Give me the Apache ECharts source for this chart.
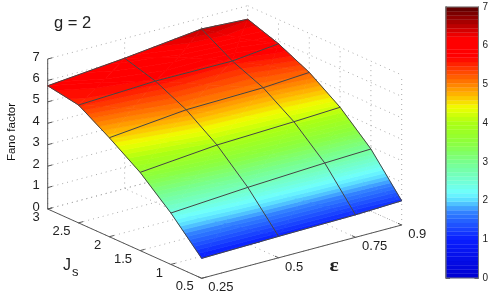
<!DOCTYPE html>
<html><head><meta charset="utf-8">
<style>html,body{margin:0;padding:0;background:#fff}#c{width:491px;height:294px}</style>
<script src="https://cdn.jsdelivr.net/npm/echarts@6/dist/echarts.min.js"></script>
</head><body><div id="c"></div>
<script>
const epsValues = [0.25, 0.5, 0.75, 0.9];
const jsValues = [3, 2.5, 2, 1.5, 1, 0.5];
const fanoEps025 = [5.75, 5.50, 4.62, 3.65, 2.40, 0.93];
const fanoEps050 = [6.08, 5.66, 4.97, 3.97, 2.64, 1.00];
const fanoEps075 = [6.49, 5.64, 5.04, 4.10, 2.82, 1.05];
const fanoEps090 = [6.37, 5.87, 5.18, 4.20, 2.90, 1.13];
const fanoColumns = [fanoEps025, fanoEps050, fanoEps075, fanoEps090];
const epsTicks = [0.25, 0.5, 0.75, 0.9];
const jsTicks = [3, 2.5, 2, 1.5, 1, 0.5];
const zTicks = [0, 1, 2, 3, 4, 5, 6, 7];

const colorStops = [
 [0,[0,0,210]],[1,[10,30,255]],[1.7,[50,130,255]],[2.0,[90,220,255]],[2.2,[110,255,255]],
 [3,[120,255,140]],[3.5,[140,255,60]],[4,[170,255,20]],[4.4,[240,255,0]],[4.7,[255,190,0]],
 [5,[255,130,0]],[5.5,[255,40,0]],[5.7,[255,0,0]],[6.2,[255,0,0]],[6.5,[190,0,0]],[7,[90,0,0]]
];
const LEVELS = 64, ZMAX = 7;
function colorAt(z){
  for(let i=1;i<colorStops.length;i++){
    if(z<=colorStops[i][0]){
      const a=colorStops[i-1],b=colorStops[i],t=(z-a[0])/(b[0]-a[0]);
      return 'rgb('+[0,1,2].map(k=>Math.round(a[1][k]+(b[1][k]-a[1][k])*t)).join(',')+')';
    }
  }
  return 'rgb(90,0,0)';
}
const lin = echarts.number.linearMap;
// oblique projection of the 3D box on the page
function project(e,j,z){
  return [
    47.7 + lin(e,[0.25,0.9],[0,200]) + lin(j,[3,0.5],[0,154]),
    209 - lin(e,[0.25,0.9],[0,53.3]) + lin(j,[3,0.5],[0,69.3]) - lin(z,[0,7],[0,150])
  ];
}
// surface cells
const cells=[];
for(let a=0;a<epsValues.length-1;a++) for(let b=0;b<jsValues.length-1;b++){
  cells.push([epsValues[a],epsValues[a+1],jsValues[b],jsValues[b+1],
    fanoColumns[a][b],fanoColumns[a+1][b],fanoColumns[a+1][b+1],fanoColumns[a][b+1]]);
}
function clip(poly,level,keepAbove){
  const out=[];
  for(let i=0;i<poly.length;i++){
    const p=poly[i],q=poly[(i+1)%poly.length];
    const pin=keepAbove?p[2]>=level:p[2]<=level, qin=keepAbove?q[2]>=level:q[2]<=level;
    if(pin) out.push(p);
    if(pin!==qin){
      const t=(level-p[2])/(q[2]-p[2]);
      out.push([p[0]+(q[0]-p[0])*t,p[1]+(q[1]-p[1])*t,level]);
    }
  }
  return out;
}
function renderCell(params,api){
  const e0=api.value(0),e1=api.value(1),j0=api.value(2),j1=api.value(3);
  const zs=[api.value(4),api.value(5),api.value(6),api.value(7)];
  const corners=[[e0,j0],[e1,j0],[e1,j1],[e0,j1]].map((c,i)=>{const p=project(c[0],c[1],zs[i]);return [p[0],p[1],zs[i]];});
  const mid=[0,1,2].map(k=>(corners[0][k]+corners[1][k]+corners[2][k]+corners[3][k])/4);
  const children=[];
  for(let t=0;t<4;t++){
    const tri=[corners[t],corners[(t+1)%4],mid];
    const lo=Math.min(tri[0][2],tri[1][2],tri[2][2]),hi=Math.max(tri[0][2],tri[1][2],tri[2][2]);
    const s=Math.floor(lo/ZMAX*LEVELS),f=Math.floor(hi/ZMAX*LEVELS);
    for(let l=s;l<=f;l++){
      const a=l/LEVELS*ZMAX,b=(l+1)/LEVELS*ZMAX;
      let poly=clip(clip(tri,a,true),b,false);
      if(poly.length<3) continue;
      const col=colorAt((l+0.5)/LEVELS*ZMAX);
      children.push({type:'polygon',shape:{points:poly.map(p=>[p[0],p[1]])},style:{fill:col,stroke:col,lineWidth:0.7},silent:true});
    }
  }
  return {type:'group',children};
}
// dotted box grid
const gridSegs=[];
zTicks.forEach(z=>{gridSegs.push([0.25,3,z,0.9,3,z]);gridSegs.push([0.9,3,z,0.9,0.5,z]);});
jsTicks.forEach(j=>{gridSegs.push([0.25,j,0,0.9,j,0]);gridSegs.push([0.9,j,0,0.9,j,7]);});
epsTicks.forEach(e=>{gridSegs.push([e,0.5,0,e,3,0]);gridSegs.push([e,3,0,e,3,7]);});
// mesh lines
const meshSegs=[];
epsValues.forEach((e,a)=>{for(let b=0;b<jsValues.length-1;b++) meshSegs.push([e,jsValues[b],fanoColumns[a][b],e,jsValues[b+1],fanoColumns[a][b+1]]);});
jsValues.forEach((j,b)=>{for(let a=0;a<epsValues.length-1;a++) meshSegs.push([epsValues[a],j,fanoColumns[a][b],epsValues[a+1],j,fanoColumns[a+1][b]]);});
// solid axes
const axisSegs=[[0.25,3,0,0.25,3,7],[0.25,3,0,0.25,0.5,0],[0.25,0.5,0,0.9,0.5,0]];
zTicks.forEach(z=>axisSegs.push([0.25,3,z,0.265,3,z]));
jsTicks.forEach(j=>axisSegs.push([0.25,j,0,0.265,j,0]));
epsTicks.forEach(e=>axisSegs.push([e,0.5,0,e,0.56,0]));

function segRenderer(style){
  return function(params,api){
    const a=project(api.value(0),api.value(1),api.value(2)),b=project(api.value(3),api.value(4),api.value(5));
    return {type:'line',shape:{x1:a[0],y1:a[1],x2:b[0],y2:b[1]},style,silent:true};
  };
}
const labelFont='"Liberation Sans",Arial,sans-serif';
function tickLabel(params,api){
  const kind=api.value(0),v=api.value(1);
  let p,o;
  if(kind===0){p=project(0.25,3,v);o={x:p[0]-8,y:p[1]-2,align:'right'};}
  else if(kind===1){p=project(0.25,v,0);o={x:p[0]-8,y:p[1]+8.5,align:'right'};}
  else {p=project(v,0.5,0);o={x:p[0]+6.5,y:p[1]+9.5,align:'left'};}
  return {type:'text',silent:true,style:{text:String(v),x:o.x,y:o.y,align:o.align,verticalAlign:'middle',font:'13px '+labelFont,fill:'#222'}};
}
const tickData=[].concat(zTicks.map(v=>[0,v]),jsTicks.map(v=>[1,v]),epsTicks.map(v=>[2,v]));
const barBands=[];
for(let i=0;i<LEVELS;i++) barBands.push([i/LEVELS*ZMAX,(i+1)/LEVELS*ZMAX]);

const chart=echarts.init(document.getElementById('c'),null,{renderer:'canvas'});
chart.setOption({
  animation:false,
  grid:{left:446,top:7,width:33,height:271,show:true,borderColor:'#777',borderWidth:1,backgroundColor:'transparent',z:5},
  xAxis:{type:'value',min:0,max:1,show:false},
  yAxis:[
    {type:'value',position:'right',min:0,max:7,interval:1,splitLine:{show:false},
     axisLine:{show:true,onZero:false,lineStyle:{color:'#222',width:1}},axisTick:{show:true,inside:true,length:4,lineStyle:{color:'#555'}},
     axisLabel:{show:true,margin:4,fontSize:10,color:'#222',fontFamily:'Liberation Sans'}},
    {type:'value',position:'left',min:0,max:7,interval:1,splitLine:{show:false},
     axisLine:{show:true,onZero:false,lineStyle:{color:'#888',width:2}},axisTick:{show:true,inside:true,length:4,lineStyle:{color:'#555'}},
     axisLabel:{show:false}}
  ],
  graphic:[
    {type:'text',left:54,top:15,silent:true,style:{text:'g = 2',font:'16.5px '+labelFont,fill:'#222'}},
    {type:'text',x:12,y:132,rotation:Math.PI/2,silent:true,style:{text:'Fano factor',align:'center',verticalAlign:'middle',font:'11.5px '+labelFont,fill:'#111'}},
    {type:'text',x:63,y:258,silent:true,style:{text:'J',font:'16px '+labelFont,fill:'#222'}},
    {type:'text',x:72,y:266,silent:true,style:{text:'s',font:'13px '+labelFont,fill:'#222'}},
    {type:'text',x:329.5,y:257,scaleX:1.2,silent:true,style:{text:'ε',font:'bold 18px "Liberation Serif",serif',fill:'#222'}}
  ],
  series:[
    {type:'custom',name:'box grid',coordinateSystem:'none',data:gridSegs,z:1,silent:true,
     renderItem:segRenderer({stroke:'#aaa',lineWidth:1,lineDash:[1,4]})},
    {type:'custom',name:'axes',coordinateSystem:'none',data:axisSegs,z:2,silent:true,
     renderItem:segRenderer({stroke:'#555',lineWidth:1})},
    {type:'custom',name:'Fano factor',coordinateSystem:'none',data:cells,z:3,silent:true,renderItem:renderCell},
    {type:'custom',name:'mesh',coordinateSystem:'none',data:meshSegs,z:4,silent:true,
     renderItem:segRenderer({stroke:'#444',lineWidth:1})},
    {type:'custom',name:'tick labels',coordinateSystem:'none',data:tickData,z:5,silent:true,renderItem:tickLabel},
    {type:'custom',name:'colorbar',coordinateSystem:'cartesian2d',xAxisIndex:0,yAxisIndex:0,data:barBands,z:2,silent:true,
     encode:{y:[0,1]},clip:false,
     renderItem:function(params,api){
       const lo=api.value(0),hi=api.value(1),a=api.coord([0,hi]),b=api.coord([1,lo]);
       const col=colorAt((lo+hi)/2);
       return {type:'rect',shape:{x:a[0],y:a[1],width:b[0]-a[0],height:b[1]-a[1]},style:{fill:col,stroke:col,lineWidth:0.3},silent:true};
     }}
  ]
});
</script></body></html>
